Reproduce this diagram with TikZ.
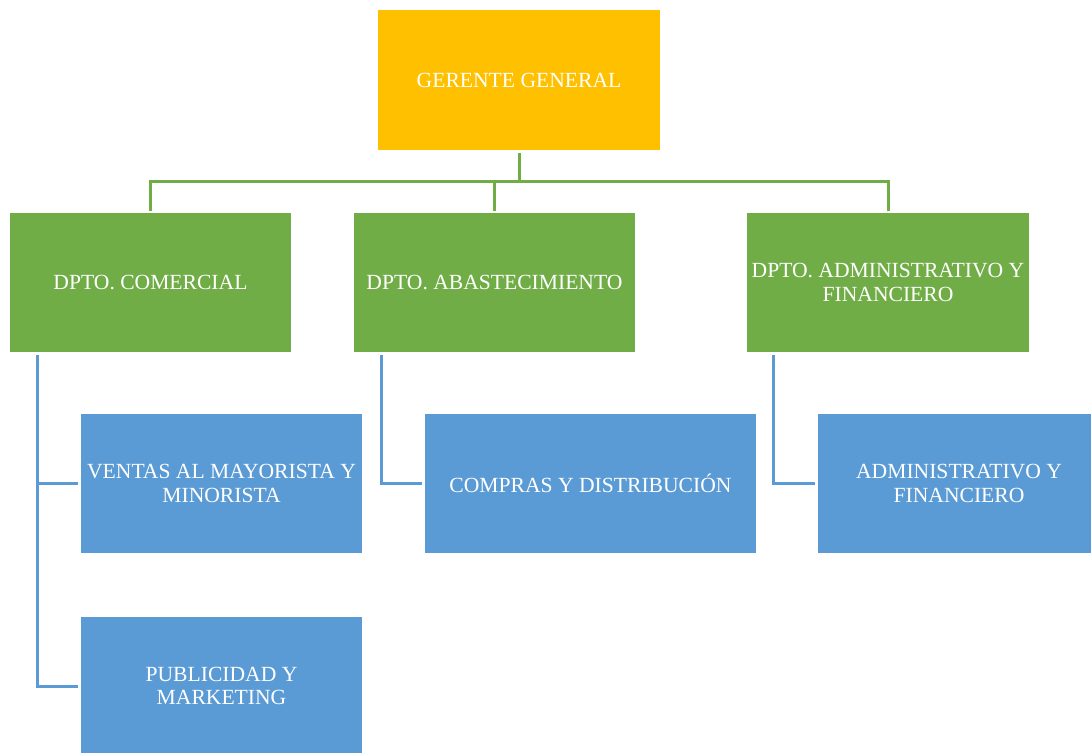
\documentclass[tikz,border=0pt]{standalone}
\usepackage{fontspec}
\setmainfont{Liberation Serif}
\definecolor{ggold}{HTML}{FFC000}
\definecolor{dgreen}{HTML}{70AD47}
\definecolor{ublue}{HTML}{5B9BD5}
\begin{document}
\begin{tikzpicture}[x=1pt,y=-1pt,
  box/.style={rectangle, inner sep=0pt, outer sep=0pt, align=center,
    text=white, font=\fontsize{21.6}{23.5}\selectfont,
    minimum width=281pt, minimum height=139pt},
  topbox/.style={box, fill=ggold, minimum width=282pt, minimum height=140pt},
  deptbox/.style={box, fill=dgreen},
  unitbox/.style={box, fill=ublue},
  gline/.style={draw=dgreen, line width=3pt, line join=miter},
  bline/.style={draw=ublue, line width=3pt, line join=miter}]
\useasboundingbox (0,0) rectangle (1091,752);

% top level
\node[topbox] (gg) at (519,80) {GERENTE GENERAL};

% departments
\node[deptbox] (com) at (150.5,282.5) {DPTO. COMERCIAL};
\node[deptbox] (abs) at (494.5,282.5) {DPTO. ABASTECIMIENTO};
\node[deptbox, minimum width=282pt] (adm) at (888,282.5) {DPTO. ADMINISTRATIVO Y\\FINANCIERO};

% units
\node[unitbox] (ven) at (221.5,483.5) {VENTAS AL MAYORISTA Y\\MINORISTA};
\node[unitbox] (pub) at (221.5,686) {PUBLICIDAD Y\\MARKETING};
\node[unitbox, minimum width=331pt] (cmp) at (590.5,483.5) {COMPRAS Y DISTRIBUCIÓN};
\node[unitbox, minimum width=282pt] (afi) at (959,483.5) {ADMINISTRATIVO Y\\FINANCIERO};

% manager to departments
\draw[gline] ([yshift=-3pt]gg.south) -- ++(0,28) coordinate (bus);
\draw[gline] ([yshift=2pt]com.north) |- (bus) -| ([yshift=2pt]adm.north);
\draw[gline] ([yshift=2pt]abs.north) -- (abs.north |- bus);

% departments to units
\draw[bline] ([shift={(27pt,-3pt)}]com.south west) |- ([xshift=-3pt]pub.west);
\draw[bline] ([shift={(27pt,-3pt)}]com.south west) |- ([xshift=-3pt]ven.west);
\draw[bline] ([shift={(27pt,-3pt)}]abs.south west) |- ([xshift=-3pt]cmp.west);
\draw[bline] ([shift={(26pt,-3pt)}]adm.south west) |- ([xshift=-3pt]afi.west);
\end{tikzpicture}
\end{document}
